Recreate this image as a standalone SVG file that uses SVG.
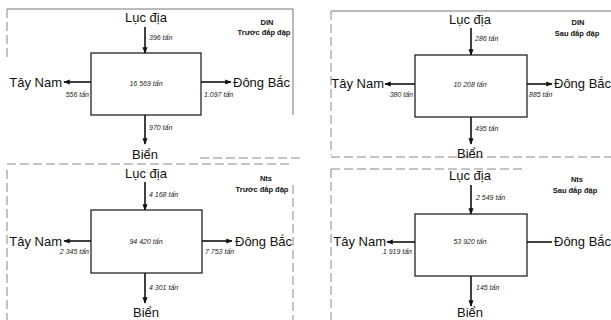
<svg xmlns="http://www.w3.org/2000/svg" width="611" height="320" viewBox="0 0 611 320">
<defs>
<style>
.lbl{font-family:"Liberation Sans",Arial,sans-serif;font-size:13px;fill:#111}
.val{font-family:"Liberation Sans",Arial,sans-serif;font-size:7px;font-style:italic;fill:#222}
.ttl{font-family:"Liberation Sans",Arial,sans-serif;font-size:7.5px;font-weight:bold;fill:#111}
.box{fill:#fff;stroke:#111;stroke-width:1.2}
.arr{stroke:#111;stroke-width:1.6;fill:none}
.frm{stroke:#777;stroke-width:1;fill:none}
.dsh{stroke:#888;stroke-width:1;fill:none;stroke-dasharray:9 4}
</style>
<marker id="ah" viewBox="0 0 10 10" refX="9" refY="5" markerWidth="4" markerHeight="4" orient="auto">
<path d="M0,1 L10,5 L0,9 Z" fill="#111"/>
</marker>
</defs>
<rect width="611" height="320" fill="#fff"/>
<g id="frames">
<path class="frm" d="M7,9 H293 V115"/>
<path class="dsh" d="M7,9 V60"/>
<path class="frm" d="M331,11 H611"/>
<path class="dsh" d="M331,11 V155"/>
<path class="dsh" d="M200,158 H300 M331,157 H611"/>
<path class="dsh" d="M7,164 H293"/>
<path class="dsh" d="M7,170 V320 M293,185 V320"/>
<path class="dsh" d="M331,169 H525 M331,169 V320"/>
</g>
<g id="connectors">
<line class="arr" x1="145" y1="27" x2="145" y2="53" marker-end="url(#ah)"/>
<line class="arr" x1="91" y1="82" x2="64" y2="82" marker-end="url(#ah)"/>
<line class="arr" x1="201" y1="82" x2="231" y2="82" stroke-width="2.2" marker-end="url(#ah)"/>
<line class="arr" x1="145" y1="115" x2="145" y2="144" marker-end="url(#ah)"/>
<line class="arr" x1="471" y1="28" x2="471" y2="55" marker-end="url(#ah)"/>
<line class="arr" x1="415" y1="84" x2="385" y2="84" marker-end="url(#ah)"/>
<line class="arr" x1="527" y1="84" x2="552" y2="84" stroke-width="2" marker-end="url(#ah)"/>
<line class="arr" x1="471" y1="117" x2="471" y2="144" marker-end="url(#ah)"/>
<line class="arr" x1="145" y1="182" x2="145" y2="210" marker-end="url(#ah)"/>
<line class="arr" x1="91" y1="241" x2="64" y2="241" marker-end="url(#ah)"/>
<line class="arr" x1="202" y1="241" x2="232" y2="241" stroke-width="2.2" marker-end="url(#ah)"/>
<line class="arr" x1="145" y1="273" x2="145" y2="303" marker-end="url(#ah)"/>
<line class="arr" x1="471" y1="185" x2="471" y2="214" marker-end="url(#ah)"/>
<line class="arr" x1="415" y1="242" x2="387" y2="242" marker-end="url(#ah)"/>
<line class="arr" x1="527" y1="242" x2="552" y2="242"/>
<line class="arr" x1="471" y1="276" x2="471" y2="306" marker-end="url(#ah)"/>
</g>
<g id="panel1">
<text class="lbl" x="146" y="22" text-anchor="middle">Lục địa</text>
<text class="val" x="149" y="40">396 tấn</text>
<text class="ttl" x="267" y="25" text-anchor="middle">DIN</text>
<text class="ttl" x="264" y="35" text-anchor="middle">Trước đắp đập</text>
<rect class="box" x="91" y="53" width="110" height="62"/>
<text class="val" x="146" y="86" text-anchor="middle">16 569 tấn</text>
<text class="lbl" x="62" y="87" text-anchor="end">Tây Nam</text>
<text class="val" x="89" y="97" text-anchor="end">556 tấn</text>
<text class="lbl" x="233" y="87">Đông Bắc</text>
<text class="val" x="204" y="97">1.097 tấn</text>
<text class="val" x="149" y="130">970 tấn</text>
<text class="lbl" x="145" y="159" text-anchor="middle">Biển</text>
</g>
<g id="panel2">
<text class="lbl" x="470" y="24" text-anchor="middle">Lục địa</text>
<text class="val" x="475" y="41">286 tấn</text>
<text class="ttl" x="578" y="25" text-anchor="middle">DIN</text>
<text class="ttl" x="577" y="36" text-anchor="middle">Sau đắp đập</text>
<rect class="box" x="415" y="55" width="112" height="62"/>
<text class="val" x="470" y="87" text-anchor="middle">10 208 tấn</text>
<text class="lbl" x="384" y="88" text-anchor="end">Tây Nam</text>
<text class="val" x="413" y="97" text-anchor="end">380 tấn</text>
<text class="lbl" x="554" y="88">Đông Bắc</text>
<text class="val" x="529" y="97">885 tấn</text>
<text class="val" x="475" y="131">495 tấn</text>
<text class="lbl" x="470" y="158" text-anchor="middle">Biển</text>
</g>
<g id="panel3">
<text class="lbl" x="146" y="178" text-anchor="middle">Lục địa</text>
<text class="val" x="149" y="197">4 168 tấn</text>
<text class="ttl" x="266" y="181" text-anchor="middle">Nts</text>
<text class="ttl" x="262" y="192" text-anchor="middle">Trước đắp đập</text>
<rect class="box" x="91" y="210" width="111" height="63"/>
<text class="val" x="146" y="244" text-anchor="middle">94 420 tấn</text>
<text class="lbl" x="62" y="246" text-anchor="end">Tây Nam</text>
<text class="val" x="89" y="254" text-anchor="end">2 345 tấn</text>
<text class="lbl" x="235" y="246">Đông Bắc</text>
<text class="val" x="205" y="254">7 753 tấn</text>
<text class="val" x="149" y="290">4 301 tấn</text>
<text class="lbl" x="146" y="317" text-anchor="middle">Biển</text>
</g>
<g id="panel4">
<text class="lbl" x="470" y="180" text-anchor="middle">Lục địa</text>
<text class="val" x="476" y="200">2 549 tấn</text>
<text class="ttl" x="577" y="182" text-anchor="middle">Nts</text>
<text class="ttl" x="575" y="193" text-anchor="middle">Sau đắp đập</text>
<rect class="box" x="415" y="214" width="112" height="62"/>
<text class="val" x="470" y="244" text-anchor="middle">53 920 tấn</text>
<text class="lbl" x="386" y="246" text-anchor="end">Tây Nam</text>
<text class="val" x="412" y="254" text-anchor="end">1 919 tấn</text>
<text class="lbl" x="554" y="246">Đông Bắc</text>
<text class="val" x="476" y="290">145 tấn</text>
<text class="lbl" x="470" y="317" text-anchor="middle">Biển</text>
</g>
</svg>
